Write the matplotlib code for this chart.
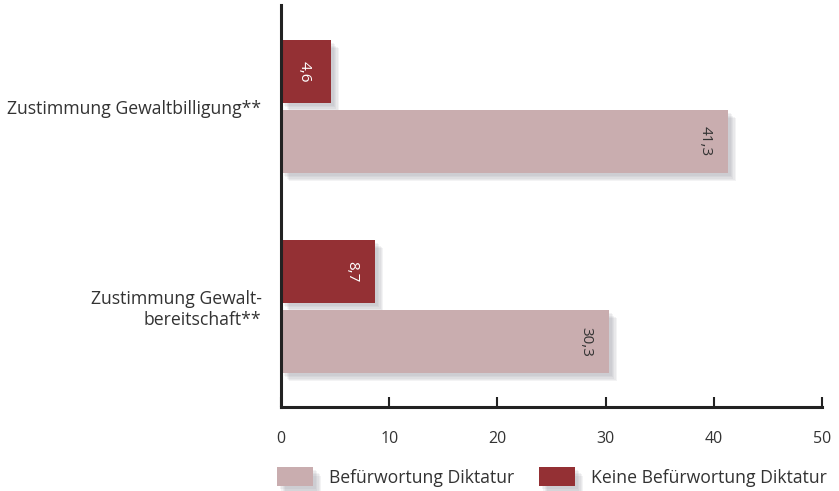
import matplotlib
matplotlib.use("Agg")
import matplotlib.pyplot as plt
import matplotlib.patheffects as pe
from matplotlib.patches import Patch

plt.rcParams['font.family'] = ['Open Sans', 'DejaVu Sans']

categories = ['Zustimmung Gewaltbilligung**', 'Zustimmung Gewalt-\nbereitschaft**']
befuerwortung = [41.3, 30.3]
keine_befuerwortung = [4.6, 8.7]
series_names = ['Befürwortung Diktatur', 'Keine Befürwortung Diktatur']
xticks = [0, 10, 20, 30, 40, 50]

light = '#c9adaf'
dark = '#943034'
# soft drop shadow: several faint offset copies
shadow = [pe.SimplePatchShadow(offset=(d, -d), shadow_rgbFace='#7d8290', alpha=0.09)
          for d in (6, 5, 4, 3, 2)] + [pe.Normal()]

fig = plt.figure(figsize=(8.39, 4.91), dpi=100)
ax = fig.add_axes([281/839, 1-407/491, 541/839, 402/491])

pos = list(range(len(categories)))
h = 0.315
off = 0.175
b1 = ax.barh([p - off for p in pos], keine_befuerwortung, height=h, color=dark)
b2 = ax.barh([p + off for p in pos], befuerwortung, height=h, color=light)
for b in list(b1) + list(b2):
    b.set_path_effects(shadow)

def fmt(v):
    return f'{v:.1f}'.replace('.', ',')

for p, v in zip(pos, keine_befuerwortung):
    ax.text(v - 2.2 if v > 6 else v / 2 - 0.2, p - off, fmt(v), rotation=-90,
            ha='center', va='center', color='white', fontsize=11)
for p, v in zip(pos, befuerwortung):
    ax.text(v - 2.1, p + off, fmt(v), rotation=-90, ha='center', va='center',
            color='#333333', fontsize=11)

ax.set_xlim(0, 50)
ax.set_ylim(1.5025, -0.5075)
ax.set_xticks(xticks)
ax.set_xticklabels([str(t) for t in xticks], fontsize=11.5, color='#333333')
ax.set_yticks(pos)
ax.set_yticklabels(categories, fontsize=12.7, color='#333333')
ax.tick_params(axis='y', length=0, pad=14)
ax.tick_params(axis='x', direction='in', length=7, width=1.5, pad=17, color='#222222')
for s in ['top', 'right']:
    ax.spines[s].set_visible(False)
for s in ['left', 'bottom']:
    ax.spines[s].set_linewidth(2.2)
    ax.spines[s].set_color('#222222')

handles = [Patch(facecolor=light, path_effects=shadow), Patch(facecolor=dark, path_effects=shadow)]
fig.legend(handles, series_names, loc='center left', bbox_to_anchor=(277/839, 1 - 477/491),
           ncol=2, frameon=False, fontsize=12.7, handlelength=2.05, handleheight=1.3,
           columnspacing=1.4, handletextpad=0.9, borderpad=0, borderaxespad=0,
           labelcolor='#333333')

fig.savefig('out.png', dpi=100)
